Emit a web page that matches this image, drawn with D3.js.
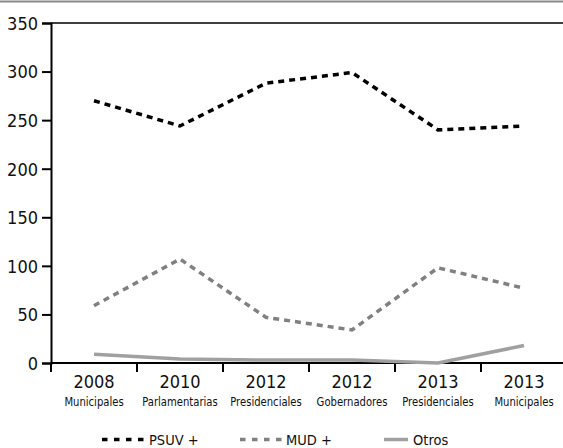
<!DOCTYPE html>
<html><head><meta charset="utf-8">
<script src="https://cdn.jsdelivr.net/npm/d3@7"></script>
<style>
body{margin:0;background:#fff;}
text{font-family:"DejaVu Sans Condensed","DejaVu Sans",sans-serif;font-stretch:condensed;fill:#111;}
</style></head><body>
<svg id="c" width="563" height="448"></svg>
<script>
const years = ["2008","2010","2012","2012","2013","2013"];
const types = ["Municipales","Parlamentarias","Presidenciales","Gobernadores","Presidenciales","Municipales"];
const psuv = [270,244,288,299,240,244];
const mud = [59,107,47,34,98,77];
const otros = [9,4,3,3,0,18];
const yTicks = [0,50,100,150,200,250,300,350];
const seriesNames = ["PSUV +","MUD +","Otros"];

const svg = d3.select("#c");
const m = {l:51, r:563, t:23, b:363};
const idx = d3.range(years.length);
const x = d3.scaleBand().domain(idx).range([m.l, m.l + 86*6]);
const y = d3.scaleLinear().domain([0,350]).range([m.b, m.t]);

// top gray rule
svg.append("line").attr("x1",0).attr("x2",563).attr("y1",1.5).attr("y2",1.5)
  .attr("stroke","#8a8a8a").attr("stroke-width",2);
// top black line
svg.append("line").attr("x1",m.l).attr("x2",563).attr("y1",y(350)).attr("y2",y(350))
  .attr("stroke","#000").attr("stroke-width",1.5);

// y axis
const ya = svg.append("g").attr("transform",`translate(${m.l},0)`)
  .call(d3.axisLeft(y).tickValues(yTicks).tickSize(9).tickPadding(4).tickFormat(d3.format("d")));
ya.select(".domain").attr("stroke","#000").attr("stroke-width",2);
ya.selectAll(".tick line").attr("stroke","#000").attr("stroke-width",2);
ya.selectAll(".tick text").attr("font-size",18).attr("dy","0.35em").attr("fill","#111")
  .style("font-family",'"DejaVu Sans Condensed","DejaVu Sans",sans-serif');

// x axis line & ticks at band boundaries
svg.append("line").attr("x1",m.l).attr("x2",563).attr("y1",m.b).attr("y2",m.b)
  .attr("stroke","#000").attr("stroke-width",2);
const xa = svg.append("g").attr("transform",`translate(0,${m.b})`);
xa.selectAll("line.t").data(idx.concat([6])).join("line")
  .attr("x1",d=>m.l + d*x.bandwidth()).attr("x2",d=>m.l + d*x.bandwidth())
  .attr("y1",0).attr("y2",9).attr("stroke","#000").attr("stroke-width",2);
xa.selectAll("text.yr").data(idx).join("text")
  .attr("x",d=>x(d)+x.bandwidth()/2).attr("y",25).attr("text-anchor","middle")
  .attr("font-size",18).text(d=>years[d]);
xa.selectAll("text.ty").data(idx).join("text")
  .attr("transform",d=>`translate(${x(d)+x.bandwidth()/2},43) scale(0.86,1)`)
  .attr("text-anchor","middle")
  .attr("font-size",13).text(d=>types[d]);

const line = d3.line().x((d,i)=>x(i)+x.bandwidth()/2).y(d=>y(d));
svg.append("path").datum(otros).attr("d",line).attr("fill","none")
  .attr("stroke","#a0a0a0").attr("stroke-width",3.5);
svg.append("path").datum(mud).attr("d",line).attr("fill","none")
  .attr("stroke","#808080").attr("stroke-width",3.5).attr("stroke-dasharray","6,5");
svg.append("path").datum(psuv).attr("d",line).attr("fill","none")
  .attr("stroke","#000").attr("stroke-width",3.5).attr("stroke-dasharray","6,5");

// legend
const leg = [
  {name:seriesNames[0], x1:102, x2:144, c:"#000", dash:"5.5,6.5", w:3.5, tx:149},
  {name:seriesNames[1], x1:240, x2:286, c:"#808080", dash:"5.5,6.5", w:3.5, tx:286},
  {name:seriesNames[2], x1:384, x2:408, c:"#a0a0a0", dash:null, w:3.5, tx:413}
];
const lg = svg.append("g");
leg.forEach(l=>{
  lg.append("line").attr("x1",l.x1).attr("x2",l.x2).attr("y1",439.5).attr("y2",439.5)
    .attr("stroke",l.c).attr("stroke-width",l.w).attr("stroke-dasharray",l.dash);
  lg.append("text").attr("x",l.tx).attr("y",445).attr("font-size",14.5).text(l.name);
});
</script></body></html>
